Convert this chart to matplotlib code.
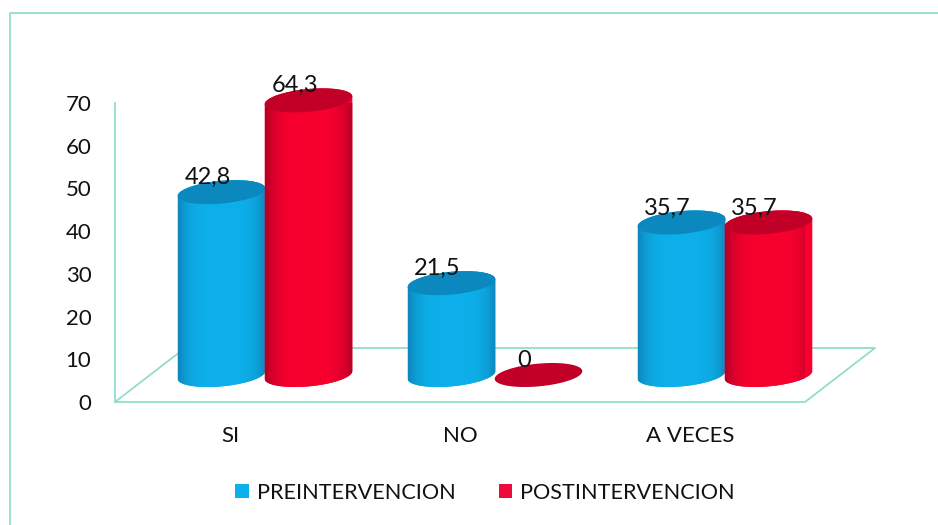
import numpy as np
import matplotlib
matplotlib.use("Agg")
import matplotlib.pyplot as plt
from matplotlib.lines import Line2D
from matplotlib.patches import Patch, Polygon

plt.rcParams["font.family"] = ["Lato", "DejaVu Sans"]

categories = ["SI", "NO", "A VECES"]
pre_values = [42.8, 21.5, 35.7]
post_values = [64.3, 0, 35.7]
value_labels_pre = ["42,8", "21,5", "35,7"]
value_labels_post = ["64,3", "0", "35,7"]
y_ticks = [0, 10, 20, 30, 40, 50, 60, 70]

W, H = 938, 525
TEAL = "#93DCCB"

fig = plt.figure(figsize=(W / 100, H / 100), dpi=100)

# axes box runs over the front edge of the floor and the height of the y axis
ax = fig.add_axes([115 / W, 1 - 402 / H, 690 / W, 299 / H])
ax.set_xlim(-0.5, 2.5)
ax.set_ylim(0, 70)
ux = 3 / 690  # data units per pixel
uy = 70 / 299

# outer frame, only the top and left sides are on the page
fig.add_artist(Line2D([9.5 / W, 9.5 / W, 1], [0, 1 - 12.5 / H, 1 - 12.5 / H],
                      transform=fig.transFigure, color=TEAL, linewidth=1.3))

# floor and wall
depth = 54 * uy
shear = 70 * ux
ax.plot([-0.5, -0.5], [0, 70], color=TEAL, lw=1.3, clip_on=False, zorder=1)
ax.plot([-0.5, 2.5, 2.5 + shear, -0.5 + shear, -0.5],
        [0, 0, depth, depth, 0], color=TEAL, lw=1.3, clip_on=False, zorder=1)


def cylinder(xc, value, side, mid, top, z):
    # ellipse of a circle lying on the sheared floor
    a = 41.5 * ux
    b = 12 * uy
    k = 14 * ux
    y0 = depth / 2
    t = np.linspace(0, 2 * np.pi, 181)
    ex = a * np.cos(t) + k * np.sin(t)
    ey = b * np.sin(t)
    i_right = np.argmax(ex)
    i_left = np.argmin(ex)
    if value > 0:
        ts_up = np.linspace(t[i_right], t[i_left], 80)
        ts_low = np.linspace(t[i_left], t[i_right] + 2 * np.pi, 80)
        body_x = np.r_[a * np.cos(ts_low) + k * np.sin(ts_low),
                       a * np.cos(ts_up) + k * np.sin(ts_up)] + xc
        body_y = np.r_[b * np.sin(ts_low) + y0,
                       b * np.sin(ts_up) + y0 + value]
        poly = Polygon(np.c_[body_x, body_y], closed=True, facecolor=mid,
                       edgecolor="none", clip_on=False, zorder=z)
        ax.add_patch(poly)
        # horizontal shading, dark at the edges of the cylinder
        c0 = np.array(matplotlib.colors.to_rgb(side))
        c1 = np.array(matplotlib.colors.to_rgb(mid))
        s = np.linspace(-1, 1, 128)
        w = np.clip(1 - np.abs(s) ** 4, 0, 1)[None, :, None]
        img = c0 + (c1 - c0) * w
        half = ex.max()
        im = ax.imshow(img, extent=[xc - half, xc + half, y0 - b, y0 + value + b],
                       aspect="auto", zorder=z + 0.1, interpolation="bilinear")
        im.set_clip_path(poly)
    ax.add_patch(Polygon(np.c_[xc + ex, y0 + value + ey], closed=True,
                         facecolor=top, edgecolor="none", clip_on=False,
                         zorder=z + 0.2))
    return y0 + value


series = [
    (pre_values, value_labels_pre, -43.5, "#0E86BC", "#0CB0EA", "#0B88BD"),
    (post_values, value_labels_post, 43.5, "#B00025", "#F7002F", "#C20027"),
]
for n, (vals, labs, off, side, mid, top) in enumerate(series):
    for i, (v, lab) in enumerate(zip(vals, labs)):
        xc = i + shear / 2 + off * ux
        y_top = cylinder(xc, v, side, mid, top, 3 + n + 0.01 * i)
        ax.annotate(lab, (xc, y_top), xytext=(-10, 10.5),
                    textcoords="offset points", ha="center", va="center",
                    fontsize=17, color="#111111", zorder=10,
                    annotation_clip=False)

ax.set_xticks(range(len(categories)), categories)
ax.set_yticks(y_ticks)
ax.tick_params(axis="both", length=0, labelsize=16, labelcolor="#111111")
ax.tick_params(axis="x", pad=17)
ax.tick_params(axis="y", pad=17)
for spine in ax.spines.values():
    spine.set_visible(False)
ax.patch.set_visible(False)
ax.set_xlim(-0.5, 2.5)
ax.set_ylim(0, 70)

handles = [Patch(facecolor="#0CB0EA", label="PREINTERVENCION"),
           Patch(facecolor="#EE0A3C", label="POSTINTERVENCION")]
fig.legend(handles=handles, loc="center", bbox_to_anchor=(485 / W, 1 - 493 / H),
           ncol=2, frameon=False, fontsize=15.6, handlelength=0.62, handleheight=0.62,
           handletextpad=0.37, columnspacing=2.0, labelcolor="#111111")

fig.savefig("out.png", dpi=100)
